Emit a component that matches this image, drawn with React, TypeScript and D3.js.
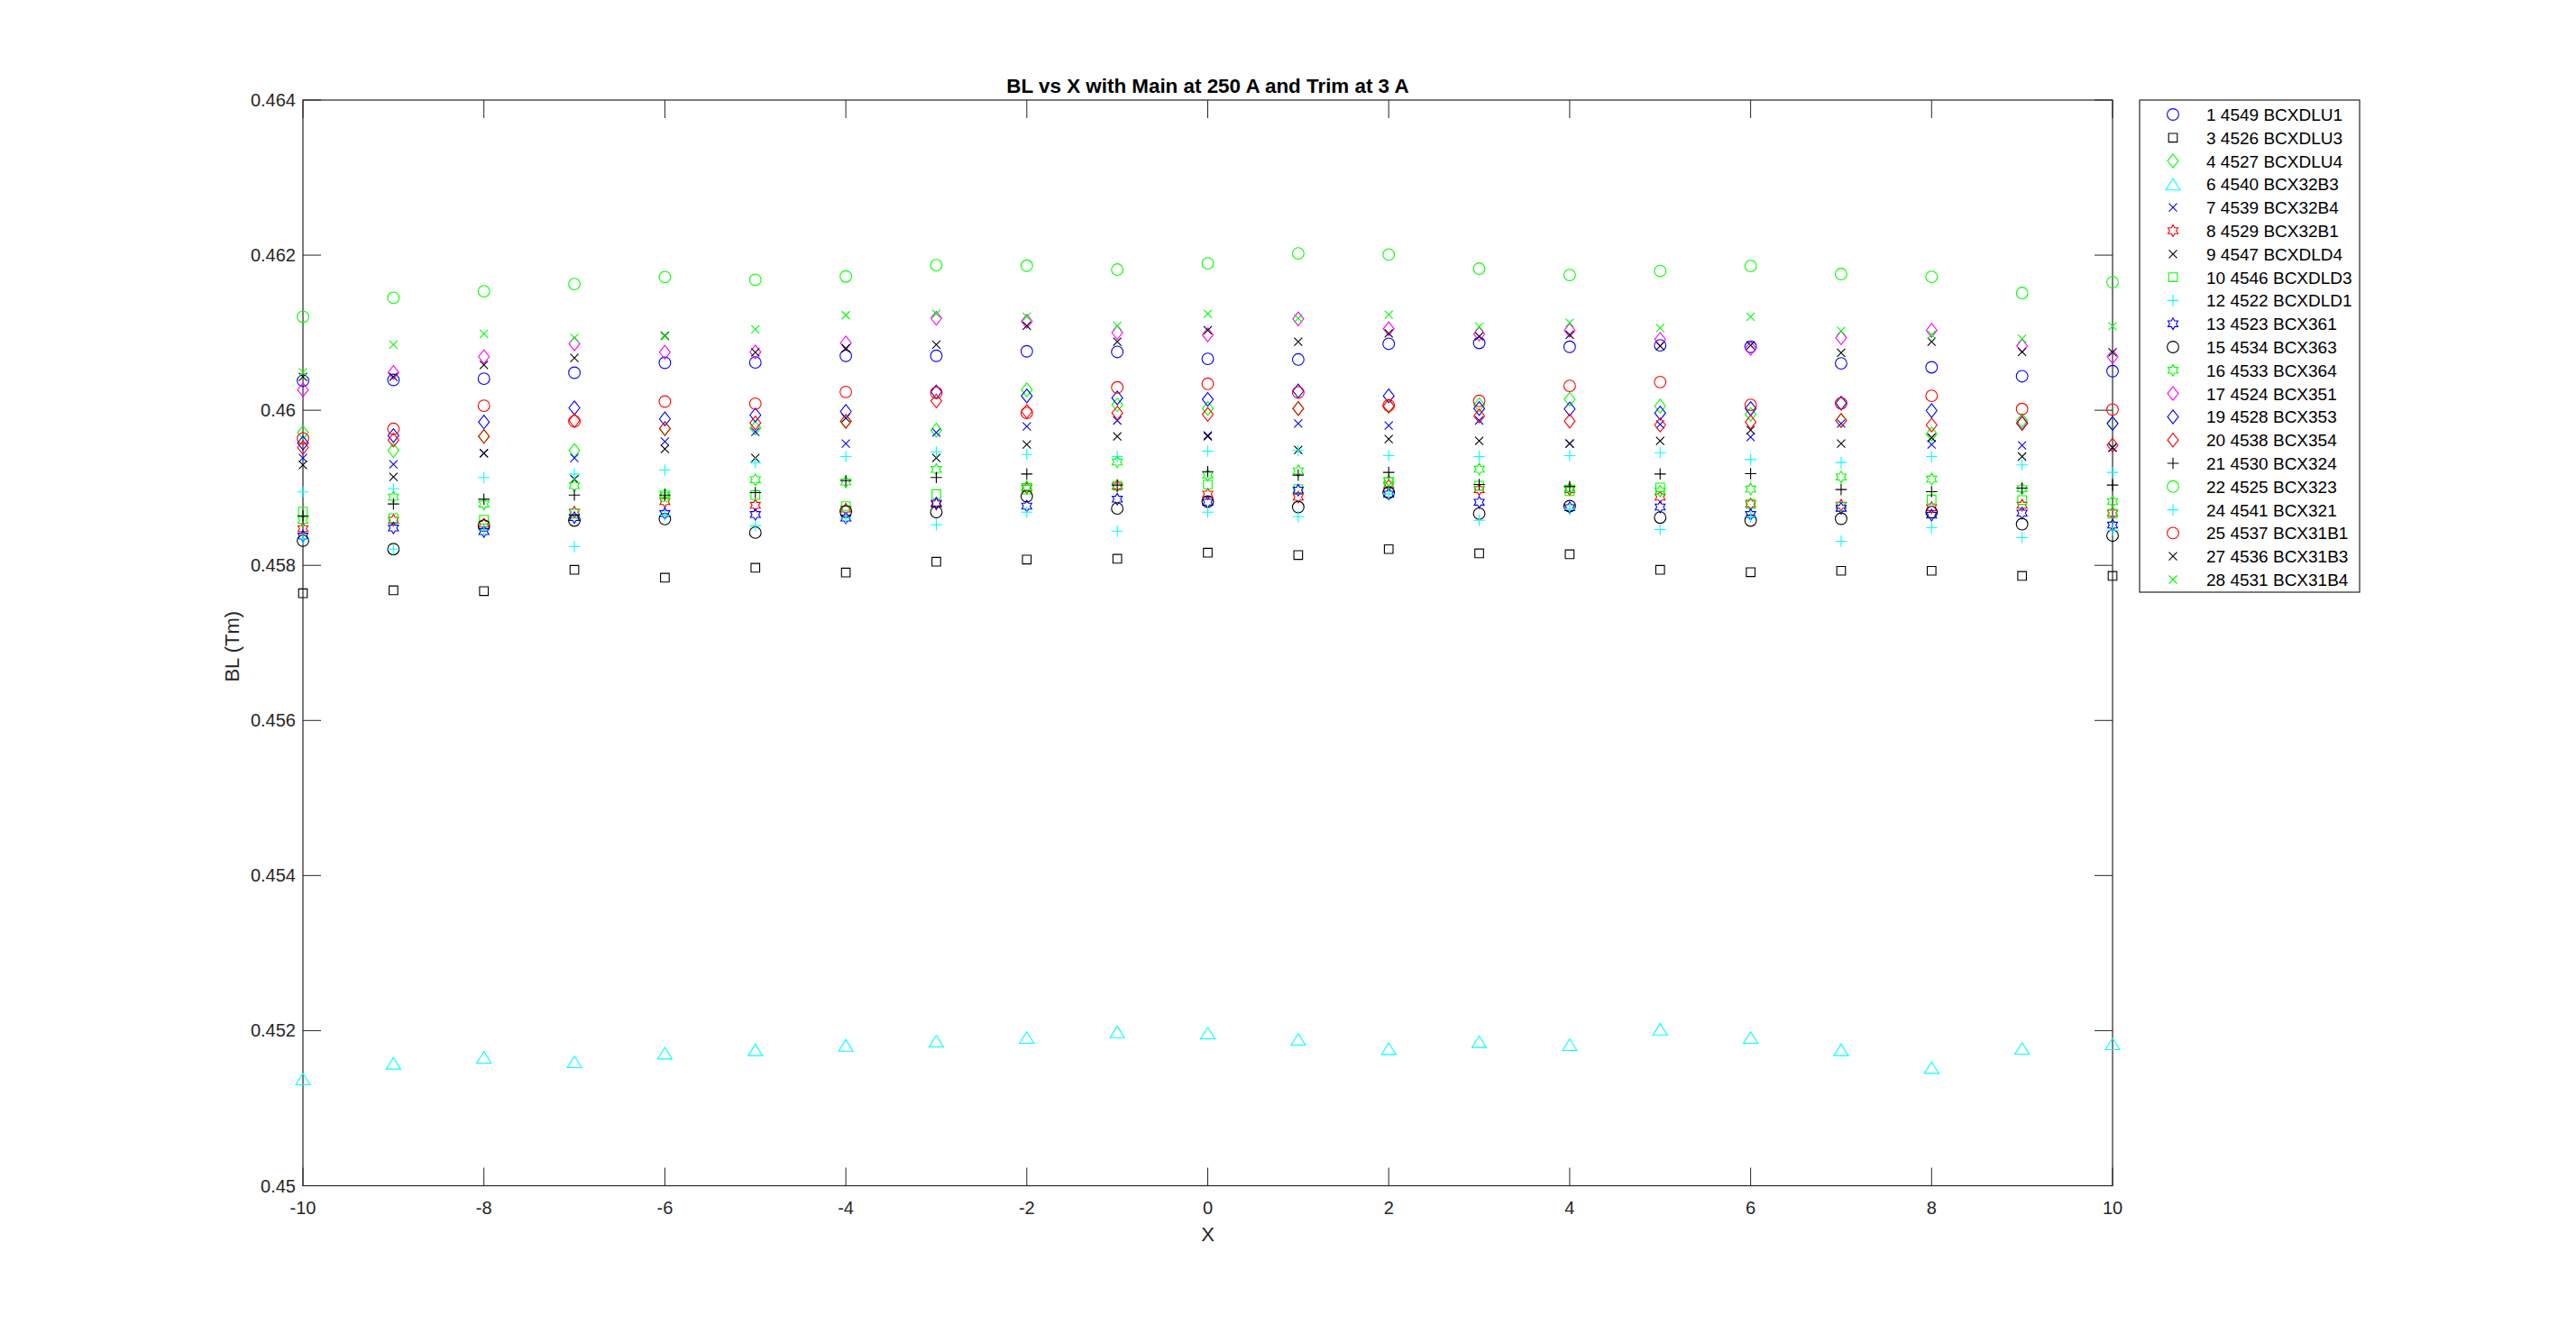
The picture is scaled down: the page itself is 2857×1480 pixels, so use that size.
import { useEffect, useRef } from 'react';
import * as d3 from 'd3';

// x positions of the scan
const xValues = [-10, -9, -8, -7, -6, -5, -4, -3, -2, -1, 0, 1, 2, 3, 4, 5, 6, 7, 8, 9, 10];

const yTicks = [0.45, 0.452, 0.454, 0.456, 0.458, 0.46, 0.462, 0.464];
const xTicks = [-10, -8, -6, -4, -2, 0, 2, 4, 6, 8, 10];

const labels = [
  '1 4549 BCXDLU1', '3 4526 BCXDLU3', '4 4527 BCXDLU4', '6 4540 BCX32B3', '7 4539 BCX32B4',
  '8 4529 BCX32B1', '9 4547 BCXDLD4', '10 4546 BCXDLD3', '12 4522 BCXDLD1', '13 4523 BCX361',
  '15 4534 BCX363', '16 4533 BCX364', '17 4524 BCX351', '19 4528 BCX353', '20 4538 BCX354',
  '21 4530 BCX324', '22 4525 BCX323', '24 4541 BCX321', '25 4537 BCX31B1', '27 4536 BCX31B3',
  '28 4531 BCX31B4'
];

const colors = [
  '#0000ff', '#000000', '#00ff00', '#00ffff', '#0000ff',
  '#ff0000', '#000000', '#00ff00', '#00ffff', '#0000ff',
  '#000000', '#00ff00', '#ff00ff', '#0000ff', '#ff0000',
  '#000000', '#00ff00', '#00ffff', '#ff0000', '#000000',
  '#00ff00'
];

const markers = [
  'o', 's', 'd', '^', 'x',
  'h', 'x', 's', '+', 'h',
  'o', 'h', 'd', 'd', 'd',
  '+', 'o', '+', 'o', 'x',
  'x'
];

const s1 = [0.460380, 0.460391, 0.460407, 0.460484, 0.460612, 0.460616, 0.460702, 0.460702, 0.460760, 0.460752, 0.460663, 0.460655, 0.460857, 0.460868, 0.460818, 0.460837, 0.460818, 0.460605, 0.460554, 0.460438, 0.460504];
const s3 = [0.457640, 0.457678, 0.457667, 0.457942, 0.457841, 0.457969, 0.457907, 0.458047, 0.458074, 0.458085, 0.458163, 0.458132, 0.458209, 0.458155, 0.458143, 0.457942, 0.457911, 0.457930, 0.457930, 0.457864, 0.457864];
const s4 = [0.459713, 0.459481, 0.459663, 0.459481, 0.459764, 0.459771, 0.459857, 0.459744, 0.460264, 0.460070, 0.460023, 0.460023, 0.460054, 0.460070, 0.460140, 0.460054, 0.459946, 0.459868, 0.459694, 0.459868, 0.459829];
const s6 = [0.451376, 0.451578, 0.451655, 0.451597, 0.451709, 0.451752, 0.451810, 0.451864, 0.451911, 0.451984, 0.451969, 0.451888, 0.451767, 0.451857, 0.451818, 0.452019, 0.451911, 0.451752, 0.451523, 0.451771, 0.451829];
const s7 = [0.459384, 0.459302, 0.459446, 0.459384, 0.459597, 0.459721, 0.459570, 0.459713, 0.459791, 0.459868, 0.459674, 0.459829, 0.459802, 0.459868, 0.459570, 0.459818, 0.459655, 0.459829, 0.459558, 0.459547, 0.459519];
const s8 = [0.458473, 0.458581, 0.458531, 0.458686, 0.458822, 0.458775, 0.458725, 0.458791, 0.458996, 0.459023, 0.458919, 0.458880, 0.459035, 0.458977, 0.458977, 0.458880, 0.458791, 0.458775, 0.458744, 0.458775, 0.458674];
const s9 = [0.459295, 0.459140, 0.459446, 0.459112, 0.459500, 0.459384, 0.459899, 0.459384, 0.459558, 0.459663, 0.459663, 0.459488, 0.459628, 0.459605, 0.459570, 0.459605, 0.459744, 0.459570, 0.459647, 0.459403, 0.459519];
const s10 = [0.458694, 0.458609, 0.458589, 0.458667, 0.458880, 0.458907, 0.458764, 0.458919, 0.458977, 0.459027, 0.459043, 0.458984, 0.459074, 0.459027, 0.458957, 0.459004, 0.458791, 0.458752, 0.458849, 0.458841, 0.458667];
const s12 = [0.458946, 0.458988, 0.459132, 0.459178, 0.459229, 0.459318, 0.459403, 0.459461, 0.459430, 0.459403, 0.459473, 0.459481, 0.459415, 0.459403, 0.459415, 0.459453, 0.459364, 0.459326, 0.459403, 0.459295, 0.459198];
const s13 = [0.458376, 0.458481, 0.458434, 0.458616, 0.458667, 0.458655, 0.458609, 0.458802, 0.458764, 0.458853, 0.458814, 0.458969, 0.458919, 0.458814, 0.458744, 0.458752, 0.458655, 0.458736, 0.458647, 0.458674, 0.458519];
const s15 = [0.458318, 0.458209, 0.458512, 0.458578, 0.458597, 0.458422, 0.458694, 0.458686, 0.458891, 0.458733, 0.458822, 0.458752, 0.458938, 0.458667, 0.458764, 0.458616, 0.458578, 0.458601, 0.458686, 0.458531, 0.458384];
const s16 = [0.458581, 0.458880, 0.458791, 0.459027, 0.458919, 0.459105, 0.459074, 0.459236, 0.459016, 0.459333, 0.459163, 0.459217, 0.459093, 0.459240, 0.458996, 0.458957, 0.458984, 0.459140, 0.459112, 0.458988, 0.458822];
const s17 = [0.460264, 0.460488, 0.460690, 0.460857, 0.460748, 0.460752, 0.460868, 0.461186, 0.461147, 0.461000, 0.460973, 0.461178, 0.461050, 0.460984, 0.461031, 0.460915, 0.460798, 0.460934, 0.461031, 0.460829, 0.460690];
const s19 = [0.459578, 0.459674, 0.459849, 0.460031, 0.459888, 0.459938, 0.459984, 0.460236, 0.460186, 0.460159, 0.460140, 0.460248, 0.460186, 0.460023, 0.460016, 0.459965, 0.460023, 0.460093, 0.459996, 0.459837, 0.459829];
const s20 = [0.459519, 0.459616, 0.459663, 0.459868, 0.459764, 0.459837, 0.459857, 0.460120, 0.459984, 0.459965, 0.459946, 0.460023, 0.460054, 0.459926, 0.459860, 0.459810, 0.459849, 0.459868, 0.459810, 0.459829, 0.459550];
const s21 = [0.458636, 0.458791, 0.458853, 0.458907, 0.458907, 0.458938, 0.459093, 0.459132, 0.459178, 0.459035, 0.459209, 0.459163, 0.459198, 0.459043, 0.459016, 0.459178, 0.459182, 0.458977, 0.458950, 0.458996, 0.459035];
const s22 = [0.461205, 0.461450, 0.461535, 0.461628, 0.461717, 0.461682, 0.461725, 0.461872, 0.461864, 0.461814, 0.461895, 0.462023, 0.462008, 0.461826, 0.461744, 0.461795, 0.461860, 0.461756, 0.461721, 0.461512, 0.461651];
const s24 = [0.458337, 0.458209, 0.458453, 0.458240, 0.458647, 0.458512, 0.458609, 0.458523, 0.458686, 0.458442, 0.458686, 0.458628, 0.458919, 0.458581, 0.458725, 0.458461, 0.458628, 0.458310, 0.458484, 0.458357, 0.458453];
const s25 = [0.459636, 0.459760, 0.460058, 0.459857, 0.460112, 0.460085, 0.460236, 0.460225, 0.459965, 0.460295, 0.460341, 0.460229, 0.460062, 0.460120, 0.460314, 0.460364, 0.460070, 0.460089, 0.460186, 0.460016, 0.460008];
const s27 = [0.460430, 0.460430, 0.460585, 0.460674, 0.460961, 0.460748, 0.460798, 0.460845, 0.461089, 0.460884, 0.461031, 0.460884, 0.460992, 0.460953, 0.460973, 0.460829, 0.460837, 0.460740, 0.460884, 0.460752, 0.460748];
const s28 = [0.460488, 0.460845, 0.460984, 0.460934, 0.460953, 0.461043, 0.461225, 0.461244, 0.461205, 0.461089, 0.461244, 0.461186, 0.461233, 0.461078, 0.461128, 0.461062, 0.461205, 0.461023, 0.460973, 0.460922, 0.461085];

const seriesValues = [s1, s3, s4, s6, s7, s8, s9, s10, s12, s13, s15, s16, s17, s19, s20, s21, s22, s24, s25, s27, s28];

const markerPath = (type: string): string => {
  switch (type) {
    case 'o':
      return 'M6.4,0A6.4,6.4 0 1,1 -6.4,0A6.4,6.4 0 1,1 6.4,0Z';
    case 's':
      return 'M-4.8,-4.8H4.8V4.8H-4.8Z';
    case 'd':
      return 'M0,-7.6L6,0L0,7.6L-6,0Z';
    case '^':
      return 'M0,-6.4L8,6.4L-8,6.4Z';
    case 'x':
      return 'M-4.5,-4.5L4.5,4.5M-4.5,4.5L4.5,-4.5';
    case '+':
      return 'M-6.3,0H6.3M0,-6.3V6.3';
    case 'h': {
      const R = 6.4;
      const r = R / Math.sqrt(3);
      const pts = d3.range(12).map(k => {
        const a = (-90 + k * 30) * Math.PI / 180;
        const rad = k % 2 === 0 ? R : r;
        return [rad * Math.cos(a), rad * Math.sin(a)];
      });
      return 'M' + pts.map(p => p[0].toFixed(2) + ',' + p[1].toFixed(2)).join('L') + 'Z';
    }
    default:
      return '';
  }
};

export default function App() {
  const svgRef = useRef<SVGSVGElement>(null);

  useEffect(() => {
    const width = 2857;
    const height = 1480;
    const left = 336, right = 2343, top = 111, bottom = 1315.5;
    const font = 'Arial, "Liberation Sans", Helvetica, sans-serif';
    const axisColor = '#262626';

    const svg = d3.select(svgRef.current);
    svg.selectAll('*').remove();
    svg.attr('width', width).attr('height', height);

    svg.append('rect').attr('width', width).attr('height', height).attr('fill', '#ffffff');

    const x = d3.scaleLinear().domain([-10, 10]).range([left, right]);
    const y = d3.scaleLinear().domain([0.45, 0.464]).range([bottom, top]);

    // Axes box
    svg.append('rect')
      .attr('x', left).attr('y', top)
      .attr('width', right - left).attr('height', bottom - top)
      .attr('fill', '#ffffff').attr('stroke', axisColor).attr('stroke-width', 1.2);

    const tickLen = 20;
    const ticks = svg.append('g').attr('stroke', axisColor).attr('stroke-width', 1);
    xTicks.forEach(t => {
      ticks.append('line').attr('x1', x(t)).attr('x2', x(t)).attr('y1', bottom).attr('y2', bottom - tickLen);
      ticks.append('line').attr('x1', x(t)).attr('x2', x(t)).attr('y1', top).attr('y2', top + tickLen);
    });
    yTicks.forEach(t => {
      ticks.append('line').attr('x1', left).attr('x2', left + tickLen).attr('y1', y(t)).attr('y2', y(t));
      ticks.append('line').attr('x1', right).attr('x2', right - tickLen).attr('y1', y(t)).attr('y2', y(t));
    });

    // Tick labels
    svg.append('g').selectAll('text')
      .data(xTicks)
      .enter()
      .append('text')
      .attr('x', d => x(d))
      .attr('y', bottom + 31)
      .attr('text-anchor', 'middle')
      .attr('font-family', font)
      .attr('font-size', 20)
      .attr('fill', axisColor)
      .text(d => String(d));

    svg.append('g').selectAll('text')
      .data(yTicks)
      .enter()
      .append('text')
      .attr('x', left - 8)
      .attr('y', d => y(d) + 7)
      .attr('text-anchor', 'end')
      .attr('font-family', font)
      .attr('font-size', 20)
      .attr('fill', axisColor)
      .text(d => String(+d.toFixed(3)));

    // Axis labels and title
    svg.append('text')
      .attr('x', (left + right) / 2)
      .attr('y', 1377)
      .attr('text-anchor', 'middle')
      .attr('font-family', font)
      .attr('font-size', 22)
      .attr('fill', axisColor)
      .text('X');

    svg.append('text')
      .attr('transform', `translate(265,${(top + bottom) / 2 + 4}) rotate(-90)`)
      .attr('text-anchor', 'middle')
      .attr('font-family', font)
      .attr('font-size', 22)
      .attr('fill', axisColor)
      .text('BL (Tm)');

    svg.append('text')
      .attr('x', (left + right) / 2)
      .attr('y', 103)
      .attr('text-anchor', 'middle')
      .attr('font-family', font)
      .attr('font-size', 22.4)
      .attr('font-weight', 'bold')
      .attr('fill', '#000000')
      .text('BL vs X with Main at 250 A and Trim at 3 A');

    // Data points, one series after another
    seriesValues.forEach((vals, i) => {
      svg.append('g')
        .selectAll('path')
        .data(vals)
        .enter()
        .append('path')
        .attr('transform', (d, j) => `translate(${x(xValues[j])},${y(d)})`)
        .attr('d', markerPath(markers[i]))
        .attr('fill', 'none')
        .attr('stroke', colors[i])
        .attr('stroke-width', 1.1);
    });

    // Legend
    const legX = 2373, legY = 111, legW = 244, legH = 546;
    const rowH = 25.8;
    const leg = svg.append('g');
    leg.append('rect')
      .attr('x', legX).attr('y', legY)
      .attr('width', legW).attr('height', legH)
      .attr('fill', '#ffffff').attr('stroke', axisColor).attr('stroke-width', 1.2);

    labels.forEach((lab, i) => {
      const cy = legY + 16 + i * rowH;
      leg.append('path')
        .attr('transform', `translate(${legX + 37},${cy})`)
        .attr('d', markerPath(markers[i]))
        .attr('fill', 'none')
        .attr('stroke', colors[i])
        .attr('stroke-width', 1.1);
      leg.append('text')
        .attr('x', legX + 74)
        .attr('y', cy + 7)
        .attr('font-family', font)
        .attr('font-size', 19)
        .attr('fill', '#000000')
        .text(lab);
    });
  }, []);

  return (
    <div style={{ position: 'absolute', left: 0, top: 0 }}>
      <svg ref={svgRef} style={{ display: 'block' }}></svg>
    </div>
  );
}
